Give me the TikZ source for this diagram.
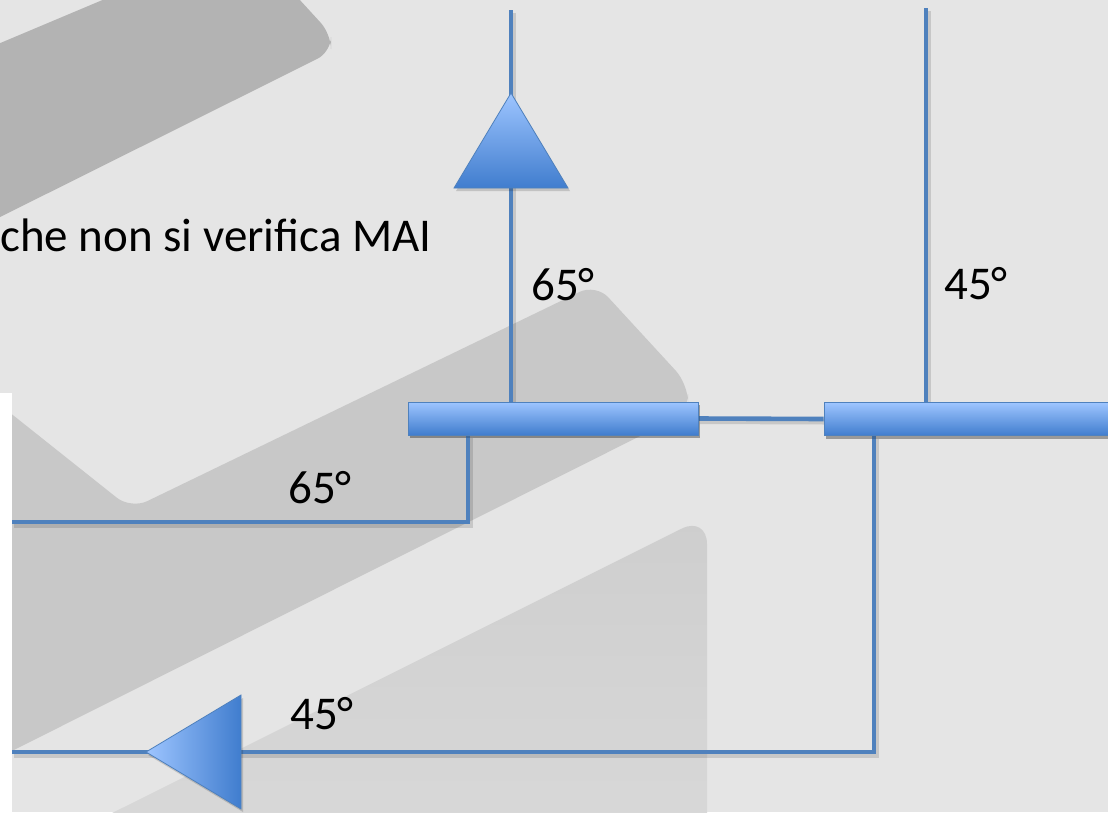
\documentclass[tikz,border=0pt]{standalone}
\usepackage{fontspec}
\setmainfont{Carlito}
\begin{document}
\definecolor{bgc}{RGB}{229,229,229}
\definecolor{wmA}{RGB}{179,179,179}
\definecolor{wmB}{RGB}{200,200,200}
\definecolor{wmCtop}{RGB}{206,206,206}
\definecolor{wmCbot}{RGB}{218,218,218}
\definecolor{wire}{RGB}{79,129,189}
\definecolor{hiblue}{RGB}{158,197,255}
\definecolor{loblue}{RGB}{64,125,206}
\begin{tikzpicture}[x=1pt,y=-1pt,
  link/.style={draw=wire, line width=4.6,
    preaction={draw=black, opacity=0.13, line width=6,
      transform canvas={shift={(1.5,2.5)}}}},
  barbox/.style={rectangle, draw=wire, line width=1, top color=hiblue,
    bottom color=loblue, inner sep=0, minimum height=33,
    preaction={fill=black, opacity=0.18, transform canvas={shift={(2,3)}}}},
  tri/.style={draw=wire, line width=0.8,
    preaction={fill=black, opacity=0.15, transform canvas={shift={(2,3)}}}},
  lbl/.style={font=\fontsize{47}{56}\selectfont, inner sep=0, anchor=base west}]
\useasboundingbox (0,0) rectangle (1108,812);
\clip (0,0) rectangle (1108,812);
% page background
\fill[bgc] (0,0) rectangle (1108,812);
% watermark bands
\fill[wmA, rounded corners=15] (-40,60) -- (245,-60) -- (331,34) -- (331,52) -- (-40,237) -- cycle;
\fill[wmB, rounded corners=18] (-40,373) -- (131,509) -- (596,284) -- (688,384) -- (688,412) -- (-40,777) -- cycle;
\path[top color=wmCtop, bottom color=wmCbot, rounded corners=28] (-40,889) -- (707,516) -- (707,850) -- (-40,850) -- cycle;
% white panel on the left edge
\fill[white] (0,393) rectangle (12,812);

% bars
\node[barbox, minimum width=290] (bar1) at (553,418.5) {};
\node[barbox, minimum width=300] (bar2) at (974,419) {};

% connector ends and corners
\coordinate (t1) at (511,10);
\coordinate (t2) at (926,8);
\coordinate (c1) at (468,522);
\coordinate (e1) at (12,522);
\coordinate (c2) at (874,752);
\coordinate (e2) at (12,752);

% connectors
\draw[link] (bar1.east) -- (bar2.west);
\draw[link] (bar1.north -| t1) -- (t1);
\draw[link] (bar2.north -| t2) -- (t2);
\draw[link] (bar1.south -| c1) -- (c1) -- (e1);
\draw[link] (bar2.south -| c2) -- (c2) -- (e2);

% redraw bars above the connector shadows
\node[barbox, minimum width=290] at (bar1) {};
\node[barbox, minimum width=300] at (bar2) {};

% flow triangles
\path[tri, top color=hiblue, bottom color=loblue] (511,93) -- (568,188) -- (454,188) -- cycle;
\path[tri, left color=hiblue, right color=loblue] (146,752) -- (241,695) -- (241,809) -- cycle;

% texts
\node[lbl] (msg) at (0,251) {che non si verifica MAI};
\node[lbl] (a1) at (531,300) {65°};
\node[lbl] (a2) at (944,299) {45°};
\node[lbl] (a3) at (288,503) {65°};
\node[lbl] (a4) at (290,729) {45°};
\end{tikzpicture}
\end{document}
